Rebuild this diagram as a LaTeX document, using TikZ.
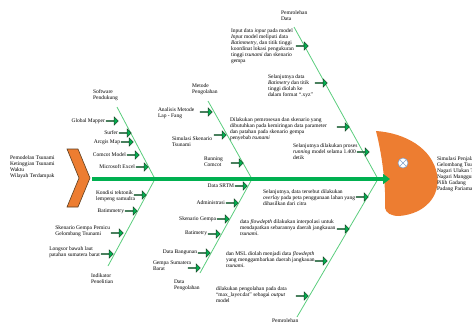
\documentclass[tikz,border=0pt]{standalone}
\usepackage{fontspec}
\setmainfont{Liberation Serif}
\usetikzlibrary{shapes.arrows, arrows.meta}

\definecolor{fishgreen}{RGB}{0,176,80}
\definecolor{bonegreen}{RGB}{90,205,125}
\definecolor{arrowline}{RGB}{25,75,40}
\definecolor{fishorange}{RGB}{237,125,49}
\definecolor{tailline}{RGB}{90,60,30}
\definecolor{eyeline}{RGB}{130,160,200}

\begin{document}
\begin{tikzpicture}[x=1pt, y=-1pt, inner sep=0, outer sep=0,
  lbl/.style={font=\fontsize{5.5}{6}\selectfont, align=left},
  garrow/.style={single arrow, draw=arrowline, line width=0.5pt, fill=fishgreen,
    minimum height=12pt, minimum width=8pt, single arrow head extend=1.8pt},
  bone/.style={draw=bonegreen, line width=0.8pt},
  spine/.style={draw=fishgreen, line width=3.5pt, -{Triangle[length=7pt, width=10pt]}}]

  \path[use as bounding box] (0,0) rectangle (472,324);
  \clip (0,0) rectangle (472,324);

  % tail and head
  \draw[fill=fishorange, draw=tailline, line width=0.6pt]
    (67,149) -- (78,149) -- (90,178) -- (78,207) -- (67,207) -- (79,178) -- cycle;
  \node[lbl, anchor=west] (tailtxt) at (10,167) {Pemodelan Tsunami\\Ketinggian Tsunami\\Waktu\\Wilayah Terdampak};

  \fill[fishorange] (376,131) .. controls (405,133) and (432,148) .. (437,174)
    .. controls (441,196) and (425,214) .. (399,216)
    .. controls (391,216) and (386,213) .. (385,208)
    .. controls (386,190) and (383,158) .. (376,131) -- cycle;
  \node[circle, draw=eyeline, fill=white, line width=0.6pt, minimum size=10pt] (eye) at (403,163) {};
  \draw[eyeline, line width=0.6pt] (eye.north west) -- (eye.south east);
  \draw[eyeline, line width=0.6pt] (eye.north east) -- (eye.south west);
  \node[lbl, anchor=west] (headtxt) at (437,174) {Simulasi Penjalaran\\Gelombang Tsunami\\Nagari Ulakan Tapakis\\Nagari Manggung\\Pilih Gadang\\Padang Pariaman};

  % spine
  \coordinate (tailtip) at (92,179);
  \coordinate (headtip) at (390,179);
  \coordinate (join1) at (155,179);
  \coordinate (join2) at (252,179);
  \coordinate (join3) at (378,179);

  % bones
  \coordinate (swtop) at (117,107);
  \coordinate (indbot) at (108,266);
  \coordinate (mettop) at (208,101);
  \coordinate (datbot) at (200,273);
  \coordinate (proctop) at (294,27);
  \coordinate (perbot) at (297,317);

  \draw[bone] (swtop) -- (join1);
  \draw[bone] (join1) -- (indbot);
  \draw[bone] (mettop) -- (join2);
  \draw[bone] (join2) -- (datbot);
  \draw[bone] (proctop) -- (join3);
  \draw[bone] (join3) -- (perbot);
  \draw[spine] (tailtip) -- (headtip);

  % left top
  \node[lbl, anchor=west] (swlbl) at (93,95) {Software\\Pendukung};
  \node[garrow] (sw1) at (112,121) {};
  \node[garrow] (sw2) at (125,133) {};
  \node[garrow] (sw3) at (127,142) {};
  \node[garrow] (sw4) at (133,155) {};
  \node[garrow] (sw5) at (142,167) {};
  \node[lbl, anchor=east] (sw1txt) at (105,121) {Global Mapper};
  \node[lbl, anchor=east] (sw2txt) at (118,133) {Surfer};
  \node[lbl, anchor=east] (sw3txt) at (120,142) {Arcgis Map};
  \node[lbl, anchor=east] (sw4txt) at (126,155) {Comcot Model};
  \node[lbl, anchor=east] (sw5txt) at (135,167) {Microsoft Excel};

  % left bottom
  \node[garrow] (ind1) at (140,195) {};
  \node[garrow] (ind2) at (131,211) {};
  \node[garrow] (ind3) at (117,233) {};
  \node[garrow] (ind4) at (107,254) {};
  \node[lbl, anchor=west] (ind1txt) at (96,196) {Kondisi tektonik\\lempeng samudra};
  \node[lbl, anchor=east] (ind2txt) at (124,211) {Batimmetry};
  \node[lbl, anchor=east] (ind3txt) at (110,231) {Skenario Gempa Pemicu\\Gelombang Tsunami};
  \node[lbl, anchor=east] (ind4txt) at (100,252) {Longsor bawah laut\\patahan sumatera barat};
  \node[lbl, anchor=west] (indlbl) at (91,279) {Indikator\\Penelitian};

  % middle top
  \node[lbl, anchor=west] (metlbl) at (192,89) {Metode\\Pengolahan};
  \node[garrow] (met1) at (206,112) {};
  \node[garrow] (met2) at (220,135) {};
  \node[garrow] (met3) at (237,163) {};
  \node[lbl, anchor=west] (met1txt) at (158,113) {Analisis Metode\\Lap - Fang};
  \node[lbl, anchor=west] (met2txt) at (172,142) {Simulasi Skenario\\Tsunami};
  \node[lbl, anchor=west] (met3txt) at (204,162) {Running\\Comcot};

  % middle bottom
  \node[garrow] (dat1) at (241,186) {};
  \node[garrow] (dat2) at (232,203) {};
  \node[garrow] (dat3) at (223,219) {};
  \node[garrow] (dat4) at (214,234) {};
  \node[garrow] (dat5) at (204,253) {};
  \node[garrow] (dat6) at (194,268) {};
  \node[lbl, anchor=east] (dat1txt) at (234,186) {Data SRTM};
  \node[lbl, anchor=east] (dat2txt) at (225,203) {Administrasi};
  \node[lbl, anchor=east] (dat3txt) at (216,219) {Skenario Gempa};
  \node[lbl, anchor=east] (dat4txt) at (207,233) {Batimetry};
  \node[lbl, anchor=east] (dat5txt) at (197,252) {Data Bangunan};
  \node[lbl, anchor=west] (dat6txt) at (153,266) {Gempa Sumatera\\Barat};
  \node[lbl, anchor=west] (datlbl) at (174,285) {Data\\Pengolahan};

  % right top
  \node[lbl, anchor=west] (proclbl) at (281,16) {Pemrolehan\\Data};
  \node[garrow] (proc1) at (302,46) {};
  \node[garrow] (proc2) at (321,83) {};
  \node[garrow] (proc3) at (343,127) {};
  \node[garrow] (proc4) at (363,152) {};
  \node[lbl, anchor=west] (proc1txt) at (231,46) {Input data \textit{input} pada model\\\textit{Input} model meliputi data\\\textit{Batimmetry}, dan titik tinggi\\koordinat lokasi pengukuran\\tinggi \textit{tsunami} dan skenario\\gempa};
  \node[lbl, anchor=west] (proc2txt) at (268,86) {Selanjutnya data\\\textit{Batimetry} dan titik\\tinggi diolah ke\\dalam format ``.xyz''};
  \node[lbl, anchor=west] (proc3txt) at (230,129) {Dilakukan pemrosesan dan skenario yang\\dibutuhkan pada kemiringan data parameter\\dan patahan pada skenario gempa\\penyebab \textit{tsunami}};
  \node[lbl, anchor=west] (proc4txt) at (293,152) {Selanjutnya dilakukan proses\\\textit{running} model selama 1.400\\detik};

  % right bottom
  \node[garrow] (per1) at (362,197) {};
  \node[garrow] (per2) at (343,229) {};
  \node[garrow] (per3) at (321,261) {};
  \node[garrow] (per4) at (302,296) {};
  \node[lbl, anchor=west] (per1txt) at (263,198) {Selanjutnya, data tersebut dilakukan\\\textit{overlay} pada peta penggunaan lahan yang\\dihasilkan dari citra};
  \node[lbl, anchor=west] (per2txt) at (240,228) {data \textit{flowdepth} dilakukan interpolasi untuk\\mendapatkan sebarannya daerah jangkauan\\\textit{tsunami}.};
  \node[lbl, anchor=west] (per3txt) at (226,260) {dan MSL diolah menjadi data \textit{flowdepth}\\yang menggambarkan daerah jangkauan\\\textit{tsunami}.};
  \node[lbl, anchor=west] (per4txt) at (216,295) {dilakukan pengolahan pada data\\``max\_layer.dat'' sebagai \textit{output}\\model};
  \node[lbl, anchor=west] (perlbl) at (272,321) {Pemrolehan};
\end{tikzpicture}
\end{document}
